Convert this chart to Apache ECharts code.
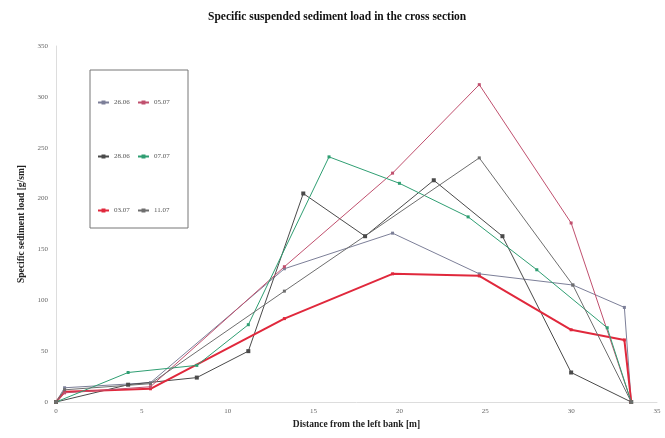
<!DOCTYPE html>
<html><head><meta charset="utf-8">
<script src="https://cdn.jsdelivr.net/npm/echarts@6/dist/echarts.min.js"></script>
<style>html,body{margin:0;padding:0;background:#fff}#c{width:665px;height:438px}</style>
</head><body><div id="c"></div>
<script>
const titleText = "Specific suspended sediment load in the cross section";
const xName = "Distance from the left bank [m]";
const yName = "Specific sediment load [g/sm]";
const names = ["26.06", "28.06", "03.07", "05.07", "07.07", "11.07"];
// series A (gray, blue tint)
const xA = [0, 0.5, 5.5, 13.3, 19.6, 24.65, 30.1, 33.1, 33.5];
const yA = [0, 14, 19, 131, 166, 126, 115, 93, 0];
// series B (dark gray)
const xB = [0, 4.2, 8.2, 11.2, 14.4, 18, 22, 26, 30, 33.5];
const yB = [0, 17, 24, 50, 205, 163, 218, 163, 29, 0];
// series C (red, thick)
const xC = [0, 0.5, 5.5, 13.3, 19.6, 24.65, 30, 33.1, 33.5];
const yC = [0, 10, 13, 82, 126, 124, 71, 61, 0];
// series D (pink)
const xD = [0, 0.5, 5.5, 13.3, 19.6, 24.65, 30, 33.5];
const yD = [0, 9, 15, 133, 225, 312, 176, 0];
// series E (green)
const xE = [0, 4.2, 8.2, 11.2, 15.9, 20, 24, 28, 32.1, 33.5];
const yE = [0, 29, 36, 76, 241, 215, 182, 130, 73, 0];
// series F (gray)
const xF = [0, 0.5, 5.5, 13.3, 24.65, 30.1, 33.5];
const yF = [0, 12, 18, 109, 240, 115, 0];
const xTicks = [0, 5, 10, 15, 20, 25, 30, 35];
const yTicks = [0, 50, 100, 150, 200, 250, 300, 350];

const pairs = (xs, ys) => xs.map((x, i) => [x, ys[i]]);
const serif = "Liberation Serif";
const colors = ["#7c7f98", "#4a4a4a", "#e0283c", "#c0506e", "#2f9e72", "#6e6e6e"];
const sets = [[xA, yA], [xB, yB], [xC, yC], [xD, yD], [xE, yE], [xF, yF]];
const widths = [1, 1, 2, 1, 1, 1];
const series = sets.map((s, i) => ({
  name: names[i], type: 'line', data: pairs(s[0], s[1]),
  symbol: 'rect', symbolSize: i === 1 ? 4 : 3, showSymbol: true,
  lineStyle: {width: widths[i], color: colors[i]},
  itemStyle: {color: colors[i]}, animation: false
}));
const legendText = {fontFamily: serif, fontSize: 7, color: '#555'};
const chart = echarts.init(document.getElementById('c'));
chart.setOption({
  animation: false,
  title: {text: titleText, left: 203, top: 6,
    textStyle: {fontFamily: serif, fontWeight: 'bold', fontSize: 11.5, color: '#111'}},
  grid: {left: 56, right: 8, top: 46, bottom: 36},
  legend: [
    {data: [names[0], names[1], names[2]], orient: 'vertical', left: 92, top: 94, itemGap: 47,
     itemWidth: 11, itemHeight: 5, textStyle: legendText},
    {data: [names[3], names[4], names[5]], orient: 'vertical', left: 132, top: 94, itemGap: 47,
     itemWidth: 11, itemHeight: 5, textStyle: legendText}
  ],
  graphic: [{type: 'rect', shape: {x: 90, y: 70, width: 98, height: 158},
    style: {fill: 'none', stroke: '#777', lineWidth: 1}}],
  xAxis: {type: 'value', min: 0, max: 35, interval: 5, name: xName, nameLocation: 'middle', nameGap: 16,
    nameTextStyle: {fontFamily: serif, fontWeight: 'bold', fontSize: 9.5, color: '#222'},
    axisLine: {show: true, lineStyle: {color: '#ddd'}}, axisTick: {show: false},
    splitLine: {show: false},
    axisLabel: {fontFamily: serif, fontSize: 7, color: '#666', margin: 6,
      formatter: v => xTicks.includes(v) ? String(v) : ''}},
  yAxis: {type: 'value', min: 0, max: 350, interval: 50, name: yName, nameLocation: 'middle', nameGap: 22,
    nameTextStyle: {fontFamily: serif, fontWeight: 'bold', fontSize: 9.5, color: '#222'},
    axisLine: {show: true, lineStyle: {color: '#ddd'}}, axisTick: {show: false},
    splitLine: {show: false},
    axisLabel: {fontFamily: serif, fontSize: 7, color: '#666', margin: 8,
      formatter: v => yTicks.includes(v) ? String(v) : ''}},
  series: series
});
</script></body></html>
